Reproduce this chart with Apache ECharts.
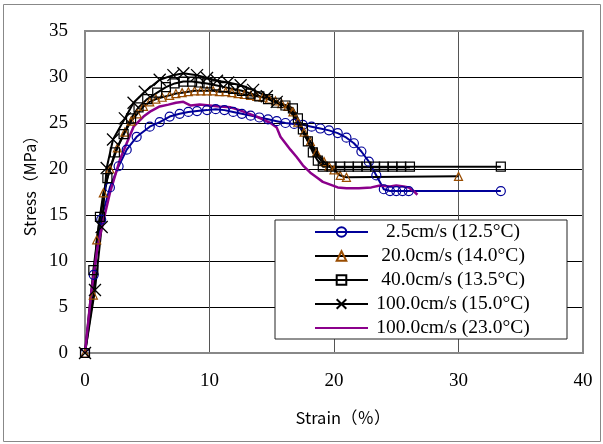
<!DOCTYPE html>
<html>
<head>
<meta charset="utf-8">
<script src="https://cdn.jsdelivr.net/npm/echarts@6/dist/echarts.min.js"></script>
<style>
  html, body { margin: 0; padding: 0; background: #fff; }
  #chart { width: 603px; height: 444px; }
</style>
</head>
<body>
<div id="chart"></div>
<script>
// series names
var names = ['2.5cm/s (12.5°C)', '20.0cm/s (14.0°C)', '40.0cm/s (13.5°C)', '100.0cm/s (15.0°C)', '100.0cm/s (23.0°C)'];

// 2.5cm/s
var strainA = [0, 0.7, 1.3, 2.0, 2.7, 3.35, 4.15, 5.2, 6.0, 6.8, 7.6, 8.3, 9.0, 9.8, 10.5, 11.2, 11.9, 12.6, 13.3, 14.0, 14.7, 15.4, 16.1, 16.8, 17.5, 18.2, 18.9, 19.6, 20.3, 21.0, 21.6, 22.2, 22.8, 23.4, 24.0, 24.5, 25.0, 25.5, 26.0, 33.4];
var stressA = [0, 8.5, 14.5, 18.0, 20.3, 22.1, 23.5, 24.6, 25.1, 25.7, 26.0, 26.2, 26.3, 26.4, 26.5, 26.4, 26.2, 26.0, 25.8, 25.6, 25.4, 25.2, 25.0, 24.9, 24.8, 24.6, 24.4, 24.2, 23.9, 23.4, 22.8, 21.9, 20.8, 19.3, 17.8, 17.6, 17.6, 17.6, 17.6, 17.6];

// 20.0cm/s
var strainB = [0, 0.67, 0.94, 1.47, 2.0, 2.6, 3.2, 3.7, 4.2, 4.7, 5.2, 5.7, 6.2, 6.8, 7.3, 7.8, 8.3, 8.8, 9.3, 9.8, 10.3, 10.8, 11.3, 11.8, 12.3, 12.8, 13.3, 13.8, 14.3, 14.8, 15.3, 15.8, 16.3, 16.7, 17.1, 17.6, 18.1, 18.6, 19.2, 19.6, 20.0, 20.5, 21.0, 30.0];
var stressB = [0, 6.3, 12.3, 17.4, 20.0, 22.3, 24.0, 25.2, 26.0, 26.8, 27.3, 27.6, 27.8, 28.0, 28.2, 28.3, 28.4, 28.5, 28.5, 28.5, 28.5, 28.4, 28.4, 28.3, 28.2, 28.1, 28.0, 27.9, 27.8, 27.6, 27.4, 27.1, 26.8, 26.2, 25.1, 24.0, 23.0, 21.8, 20.8, 20.3, 19.9, 19.3, 19.1, 19.2];

// 40.0cm/s
var strainC = [0, 0.67, 1.2, 1.8, 2.4, 3.1, 3.7, 4.3, 5.0, 5.8, 6.5, 7.2, 7.9, 8.6, 9.2, 9.8, 10.5, 11.2, 11.9, 12.6, 13.3, 14.0, 14.7, 15.4, 16.1, 16.7, 17.1, 17.5, 17.9, 18.3, 18.7, 19.1, 19.8, 20.5, 21.2, 21.9, 22.6, 23.3, 24.0, 24.7, 25.4, 26.1, 33.4];
var stressC = [0, 9.0, 14.8, 19.0, 21.8, 23.8, 25.5, 26.7, 27.6, 28.3, 28.9, 29.3, 29.5, 29.5, 29.4, 29.3, 29.1, 28.9, 28.7, 28.5, 28.2, 27.9, 27.6, 27.2, 26.9, 26.6, 25.5, 24.3, 23.0, 21.8, 20.9, 20.25, 20.25, 20.25, 20.25, 20.25, 20.25, 20.25, 20.25, 20.25, 20.25, 20.25, 20.25];

// 100.0cm/s (15.0°C) - markers only on first crossMarked points
var strainD = [0, 0.8, 1.34, 1.74, 2.25, 3.2, 3.9, 4.8, 6.0, 7.1, 7.9, 9.0, 9.8, 10.6, 11.5, 12.5, 13.5, 14.6, 15.4, 16.2, 16.8, 17.4, 18.0, 18.6, 19.2, 20.0, 23.0, 26.1];
var stressD = [0, 6.85, 13.7, 20.1, 23.2, 25.5, 27.2, 28.4, 29.7, 30.2, 30.4, 30.2, 29.9, 29.6, 29.4, 29.1, 28.6, 27.9, 27.3, 26.7, 25.7, 24.2, 22.8, 21.5, 20.5, 20.2, 20.2, 20.2];
var crossMarked = 19;

// 100.0cm/s (23.0°C)
var strainE = [0, 0.5, 1.0, 1.5, 2.0, 2.8, 3.35, 3.9, 4.7, 5.3, 6.0, 6.7, 7.3, 7.9, 8.5, 9.2, 10.0, 10.8, 11.7, 12.4, 13.0, 13.8, 14.4, 14.9, 15.4, 15.7, 16.1, 16.5, 17.0, 17.5, 18.1, 18.6, 19.1, 19.7, 20.3, 21.0, 22.0, 23.0, 23.7, 24.5, 25.0, 25.6, 26.0, 26.4, 26.7];
var stressE = [0, 6.5, 11.5, 14.5, 17.4, 21.0, 22.8, 24.6, 25.7, 26.3, 26.8, 27.0, 27.2, 27.3, 26.9, 27.0, 26.9, 26.8, 26.7, 26.4, 26.1, 25.7, 25.3, 25.0, 24.5, 23.5, 22.8, 22.1, 21.3, 20.4, 19.6, 19.1, 18.6, 18.3, 18.0, 17.9, 17.9, 18.0, 18.2, 18.1, 18.2, 18.1, 18.0, 17.6, 17.2];

function pairs(xs, ys) {
    var out = [];
    for (var i = 0; i < xs.length; i++) out.push([xs[i], ys[i]]);
    return out;
}

var crossData = [];
for (var i = 0; i < strainD.length; i++) {
    if (i < crossMarked) crossData.push([strainD[i], stressD[i]]);
    else crossData.push({ value: [strainD[i], stressD[i]], symbol: 'none' });
}

var serif = 'Liberation Serif';
var gothic = 'Noto Sans CJK JP';

var myChart = echarts.init(document.getElementById('chart'));

var option = {
    animation: false,
    backgroundColor: '#fff',
    grid: { left: 85, right: 20, top: 31, bottom: 91 },
    graphic: [{
        type: 'rect',
        shape: { x: 3.5, y: 4.5, width: 597, height: 437 },
        style: { fill: 'none', stroke: '#888', lineWidth: 1 },
        silent: true
    }, {
        type: 'rect',
        shape: { x: 85, y: 31, width: 498, height: 322 },
        style: { fill: 'none', stroke: '#888', lineWidth: 2 },
        silent: true, z: 1
    }],
    legend: {
        orient: 'vertical',
        left: 275, top: 220,
        padding: [2, 34, 1, 39],
        backgroundColor: '#fff',
        borderColor: '#222', borderWidth: 1,
        itemWidth: 53, itemHeight: 12, itemGap: 4,
        formatter: '{t|{name}}',
        textStyle: {
            rich: { t: { fontFamily: serif, fontSize: 19.5, color: '#000', width: 160, align: 'center', lineHeight: 22.3 } }
        },
        data: names
    },
    xAxis: {
        type: 'value', min: 0, max: 40, interval: 10,
        name: 'Strain（％）', nameLocation: 'middle', nameGap: 56,
        nameTextStyle: { fontFamily: gothic, fontSize: 16.5, color: '#000', padding: [0, 0, 0, 18] },
        axisLine: { lineStyle: { color: '#000', width: 1 } },
        axisTick: { show: false },
        axisLabel: { fontFamily: serif, fontSize: 19, color: '#000', margin: 19 },
        splitLine: { show: true, lineStyle: { color: '#555', width: 1 } }
    },
    yAxis: {
        type: 'value', min: 0, max: 35, interval: 5,
        name: 'Stress（MPa）', nameLocation: 'middle', nameGap: 45,
        nameTextStyle: { fontFamily: gothic, fontSize: 16, color: '#000', padding: [0, 0, 0, 20] },
        axisLine: { show: true, lineStyle: { color: '#555', width: 1 } },
        axisTick: { show: false },
        axisLabel: { fontFamily: serif, fontSize: 19, color: '#000', margin: 17 },
        splitLine: { show: true, lineStyle: { color: '#000', width: 1 } }
    },
    series: [{
        name: names[0], type: 'line', data: pairs(strainA, stressA),
        symbol: 'circle', symbolSize: 9,
        lineStyle: { color: '#000099', width: 2 },
        itemStyle: { color: 'rgba(0,0,0,0)', borderColor: '#000099', borderWidth: 1.2 }
    }, {
        name: names[1], type: 'line', data: pairs(strainB, stressB),
        symbol: 'triangle', symbolSize: 8,
        lineStyle: { color: '#000', width: 2 },
        itemStyle: { color: 'rgba(0,0,0,0)', borderColor: '#994C00', borderWidth: 1.2 }
    }, {
        name: names[2], type: 'line', data: pairs(strainC, stressC),
        symbol: 'rect', symbolSize: 9,
        lineStyle: { color: '#000', width: 2 },
        itemStyle: { color: 'rgba(0,0,0,0)', borderColor: '#000', borderWidth: 1.2 }
    }, {
        name: names[3], type: 'line', data: crossData,
        symbol: 'path://M0,0L10,10M10,0L0,10', symbolSize: 12,
        lineStyle: { color: '#000', width: 2 },
        itemStyle: { color: 'rgba(0,0,0,0)', borderColor: '#000', borderWidth: 1.3 }
    }, {
        name: names[4], type: 'line', data: pairs(strainE, stressE),
        symbol: 'none',
        lineStyle: { color: '#8B008B', width: 2.5 },
        itemStyle: { color: 'rgba(0,0,0,0)', borderColor: 'rgba(0,0,0,0)' }
    }]
};

myChart.setOption(option);
</script>
</body>
</html>
